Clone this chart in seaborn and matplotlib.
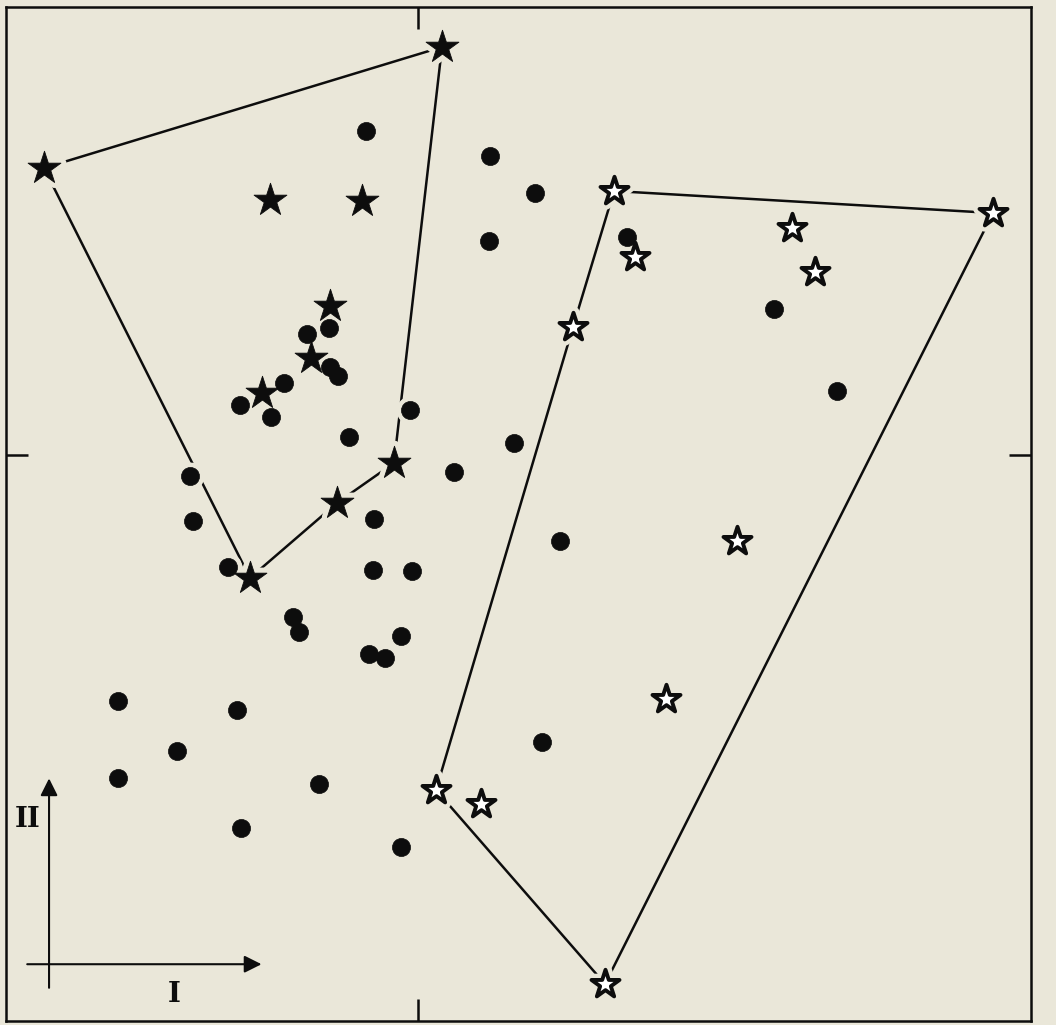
import numpy as np
import pandas as pd
import matplotlib
matplotlib.use("Agg")
import matplotlib.pyplot as plt
import seaborn as sns

# scores on components I and II
filled_star_x = [0.24, -3.74, -1.48, -0.56, -0.88, -1.07, -1.56, -0.24, -0.81, -1.68]
filled_star_y = [4.08, 2.87, 2.55, 2.54, 1.49, 0.97, 0.62, -0.08, -0.48, -1.23]
filled_hull = [1, 0, 7, 8, 9, 1]

open_star_x = [1.96, 5.75, 3.74, 2.17, 3.97, 1.55, 3.19, 2.48, 0.18, 0.63, 1.87]
open_star_y = [2.64, 2.42, 2.27, 1.98, 1.83, 1.28, -0.86, -2.44, -3.35, -3.49, -5.29]
open_hull = [0, 1, 10, 8, 5, 0]

dot_x = [-0.52, 0.72, 1.17, 0.71, 2.09, 3.56, 4.19, -0.89, -1.11, -0.88,
         -0.80, -1.34, -1.78, -1.47, -0.08, -0.69, 0.96, 0.36, -2.28, -2.25,
         -0.44, -1.90, -0.45, -0.06, 1.42, -1.25, -1.19, -0.17, -0.49, -0.33,
         -3.00, -1.81, -2.41, -3.00, -0.99, -1.77, 1.24, -0.17]
dot_y = [3.24, 2.99, 2.62, 2.14, 2.18, 1.46, 0.64, 1.27, 1.21, 0.88,
         0.79, 0.72, 0.50, 0.38, 0.45, 0.18, 0.12, -0.17, -0.21, -0.66,
         -0.64, -1.12, -1.15, -1.16, -0.86, -1.62, -1.77, -1.81, -1.99, -2.03,
         -2.46, -2.55, -2.96, -3.23, -3.29, -3.73, -2.87, -3.92]

axis_labels = ["I", "II"]

BG = "#EAE7D9"
INK = "#0d0d0d"

sns.set_style("white")
plt.rcParams["font.family"] = ["DejaVu Serif"]

fig = plt.figure(figsize=(10.56, 10.25), dpi=100, facecolor=BG)
ax = fig.add_axes([6 / 1056, 1 - 1021 / 1025, (1031 - 6) / 1056, (1021 - 7) / 1025])
ax.set_facecolor(BG)

# hull outlines
for xs, ys, hull in [(filled_star_x, filled_star_y, filled_hull),
                     (open_star_x, open_star_y, open_hull)]:
    hx = [xs[i] for i in hull]
    hy = [ys[i] for i in hull]
    ax.plot(hx, hy, color=INK, lw=1.8, solid_capstyle="butt", zorder=1)

dots = pd.DataFrame({"x": dot_x, "y": dot_y})
fstars = pd.DataFrame({"x": filled_star_x, "y": filled_star_y})
ostars = pd.DataFrame({"x": open_star_x, "y": open_star_y})

# halos so the lines break around the symbols
sns.scatterplot(data=dots, x="x", y="y", ax=ax, marker="o", s=170,
                color=BG, edgecolor=BG, linewidth=7, zorder=2, legend=False)
sns.scatterplot(data=fstars, x="x", y="y", ax=ax, marker="*", s=620,
                color=BG, edgecolor=BG, linewidth=8, zorder=2, legend=False)
sns.scatterplot(data=ostars, x="x", y="y", ax=ax, marker="*", s=450,
                color=BG, edgecolor=BG, linewidth=9, zorder=2, legend=False)

sns.scatterplot(data=dots, x="x", y="y", ax=ax, marker="o", s=170,
                color=INK, edgecolor=INK, linewidth=0.5, zorder=3, legend=False)
sns.scatterplot(data=fstars, x="x", y="y", ax=ax, marker="*", s=620,
                color=INK, edgecolor=INK, linewidth=0.6, zorder=3, legend=False)
sns.scatterplot(data=ostars, x="x", y="y", ax=ax, marker="*", s=450,
                color="white", edgecolor=INK, linewidth=2.8, zorder=3, legend=False)

ax.set_xlim(-4.12, 6.13)
ax.set_ylim(-5.66, 4.48)
ax.set_xlabel("")
ax.set_ylabel("")
ax.set_xticks([0])
ax.set_yticks([0])
ax.tick_params(direction="in", length=16, width=1.8, color=INK,
               top=True, right=True, bottom=True, left=True,
               labelbottom=False, labelleft=False)
for sp in ax.spines.values():
    sp.set_visible(True)
    sp.set_color(INK)
    sp.set_linewidth(1.8)

# component direction arrows
ax.annotate("", xy=(0.042, 0.242), xytext=(0.042, 0.030), xycoords="axes fraction",
            arrowprops=dict(arrowstyle="-|>", mutation_scale=26, lw=1.5, color=INK))
ax.annotate("", xy=(0.252, 0.056), xytext=(0.018, 0.056), xycoords="axes fraction",
            arrowprops=dict(arrowstyle="-|>", mutation_scale=26, lw=1.5, color=INK))
ax.text(0.164, 0.026, axis_labels[0], transform=ax.transAxes, fontsize=20,
        fontweight="bold", ha="center", va="center", color=INK)
ax.text(0.021, 0.199, axis_labels[1], transform=ax.transAxes, fontsize=20,
        fontweight="bold", ha="center", va="center", color=INK)

fig.savefig("out.png", dpi=100, facecolor=BG)
